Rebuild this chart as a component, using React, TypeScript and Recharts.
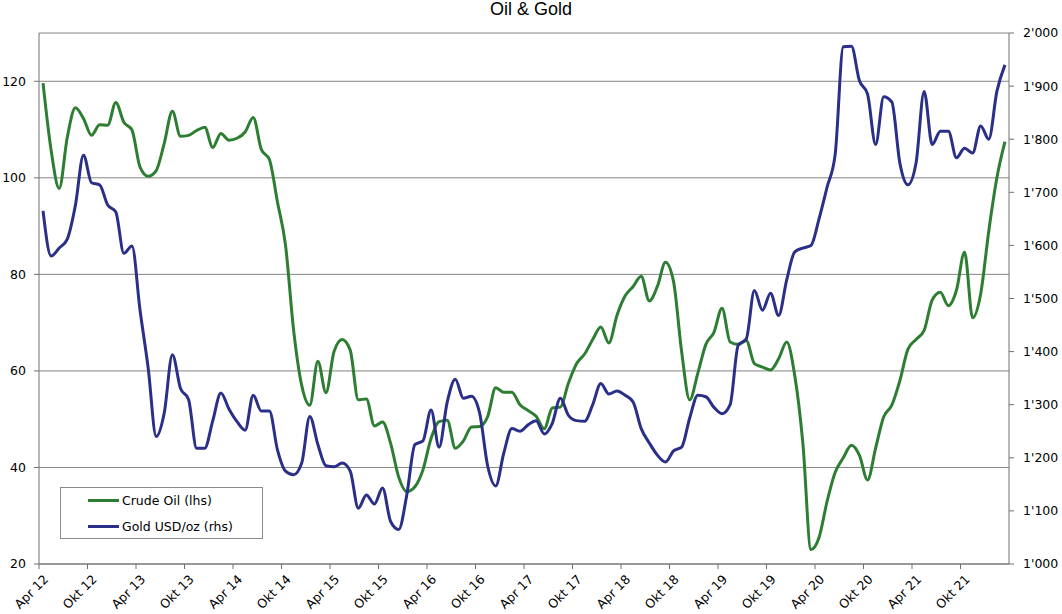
import React from 'react';
import {
  LineChart,
  Line,
  XAxis,
  YAxis,
  CartesianGrid,
  ReferenceLine,
} from 'recharts';

// Monthly readings, mid-month, Apr 2012 .. Mar 2022
const crudeOil = [
  119.6, 105.7, 97.8, 108.4, 114.5, 112.3, 108.8, 111.0, 110.9, 115.6,
  111.5, 109.9, 102.2, 100.3, 101.5, 107.2, 113.8, 108.6, 108.8, 109.8,
  110.5, 106.3, 109.2, 107.8, 108.2, 109.5, 112.5, 105.9, 103.8, 95.0,
  86.0, 68.4, 57.0, 52.9, 62.0, 55.5, 64.0, 66.5, 64.3, 54.0,
  54.2, 48.6, 49.4, 45.0, 38.0, 35.0, 36.0, 39.5, 46.0, 49.5,
  49.8, 44.0, 45.5, 48.4, 48.5, 50.5, 56.5, 55.6, 55.6, 53.0,
  51.8, 50.6, 48.0, 52.3, 52.5, 57.5, 61.5, 63.5, 66.5, 69.1,
  65.8, 71.5, 75.5, 77.5, 79.6, 74.5, 77.5, 82.5, 78.5, 64.0,
  54.0, 59.5, 65.5, 68.0, 73.0, 66.0, 65.5, 66.3, 61.5, 60.8,
  60.2, 62.5, 66.0, 59.0, 45.0, 23.0, 25.5, 33.0, 39.0, 42.0,
  44.6, 42.5, 37.4, 44.0, 50.5, 52.9, 58.0, 64.5, 66.5, 68.4,
  74.7, 76.3, 73.5, 76.7, 84.6, 71.0, 76.0, 89.0, 100.0, 107.5,
];

const goldUsd = [
  1665, 1580, 1595, 1612, 1675, 1770, 1718, 1714, 1676, 1663,
  1585, 1599, 1478, 1370, 1240, 1285, 1394, 1331, 1310, 1218,
  1218, 1270, 1322, 1292, 1268, 1252, 1318, 1288, 1288, 1215,
  1175, 1168, 1190, 1278, 1225, 1185, 1183, 1190, 1175, 1105,
  1130, 1113, 1143, 1080, 1065, 1130, 1225, 1232, 1290, 1220,
  1305, 1348, 1312, 1316, 1285, 1185, 1147, 1209, 1255, 1250,
  1262, 1270, 1245, 1265, 1312, 1280, 1270, 1269, 1300, 1340,
  1320, 1326, 1318, 1305, 1255, 1228, 1205, 1192, 1213, 1220,
  1275, 1318, 1315, 1295, 1283, 1300, 1412, 1424, 1515, 1478,
  1510, 1468, 1535, 1588, 1595, 1600, 1650, 1710, 1772, 1974,
  1975, 1910, 1885, 1790, 1880, 1870, 1755, 1714, 1755, 1890,
  1790, 1815, 1815, 1765, 1783, 1774, 1825, 1800, 1890, 1940,
];

const tickLabels = [
  'Apr 12', 'Okt 12', 'Apr 13', 'Okt 13', 'Apr 14', 'Okt 14', 'Apr 15',
  'Okt 15', 'Apr 16', 'Okt 16', 'Apr 17', 'Okt 17', 'Apr 18', 'Okt 18',
  'Apr 19', 'Okt 19', 'Apr 20', 'Okt 20', 'Apr 21', 'Okt 21',
];

const leftTicks = [20, 40, 60, 80, 100, 120];
const rightTicks = [1000, 1100, 1200, 1300, 1400, 1500, 1600, 1700, 1800, 1900, 2000];

const OIL_NAME = 'Crude Oil (lhs)';
const GOLD_NAME = 'Gold USD/oz (rhs)';
const OIL_COLOR = '#2d7d32';
const GOLD_COLOR = '#2a2f88';
const AXIS_COLOR = '#707070';
const FONT = '"DejaVu Sans", Verdana, sans-serif';

// one row per month, placed at the middle of the month
const data = crudeOil.map((oil, i) => ({ t: i + 0.5, oil, gold: goldUsd[i] }));
const xTicks = tickLabels.map((_, i) => i * 6);

function formatThousands(v: number) {
  const s = String(v);
  return s.length > 3 ? `${s.slice(0, s.length - 3)}'${s.slice(-3)}` : s;
}

function MonthTick(props: any) {
  const { x, y, payload } = props;
  const label = tickLabels[Math.round(payload.value / 6)];
  const ax = x + 7;
  const ay = y + 8;
  return (
    <text
      x={ax}
      y={ay}
      dy="0.35em"
      textAnchor="end"
      transform={`rotate(-45, ${ax}, ${ay})`}
      fill="#000"
      fontSize={12.5}
      fontFamily={FONT}
    >
      {label}
    </text>
  );
}

function LegendBox() {
  const items = [
    { name: OIL_NAME, color: OIL_COLOR },
    { name: GOLD_NAME, color: GOLD_COLOR },
  ];
  return (
    <div
      style={{
        position: 'absolute',
        left: 60,
        top: 487,
        width: 201,
        height: 50,
        border: '1px solid #8a8a8a',
        background: '#fff',
        fontFamily: FONT,
        fontSize: 12.5,
      }}
    >
      {items.map((it, i) => (
        <div
          key={it.name}
          style={{
            position: 'absolute',
            left: 27,
            top: 3 + i * 26,
            height: 18,
            display: 'flex',
            alignItems: 'center',
            whiteSpace: 'nowrap',
          }}
        >
          <span style={{ display: 'inline-block', width: 31, height: 3, background: it.color, marginRight: 3 }} />
          <span>{it.name}</span>
        </div>
      ))}
    </div>
  );
}

export default function App() {
  return (
    <div style={{ position: 'absolute', left: 0, top: 0, width: 1062, height: 614, background: '#fff' }}>
      <div
        style={{
          position: 'absolute',
          left: 0,
          top: -1,
          width: 1062,
          textAlign: 'center',
          fontFamily: '"Liberation Sans", Arial, sans-serif',
          fontSize: 18,
          color: '#000',
        }}
      >
        Oil &amp; Gold
      </div>
      <LineChart
        width={1062}
        height={614}
        data={data}
        margin={{ top: 33, right: 0, bottom: 0, left: 0 }}
      >
        <CartesianGrid yAxisId="left" vertical={false} stroke="#858585" horizontalValues={leftTicks} />
        <XAxis
          dataKey="t"
          type="number"
          domain={[0, 120]}
          ticks={xTicks}
          interval={0}
          height={50}
          tickSize={5}
          tickMargin={0}
          stroke={AXIS_COLOR}
          tick={<MonthTick />}
        />
        <YAxis
          yAxisId="left"
          orientation="left"
          domain={[20, 130]}
          ticks={leftTicks}
          interval={0}
          width={39}
          tickSize={5}
          tickMargin={8}
          stroke={AXIS_COLOR}
          tick={{ fill: '#000', fontSize: 12.5, fontFamily: FONT }}
        />
        <YAxis
          yAxisId="right"
          orientation="right"
          domain={[1000, 2000]}
          ticks={rightTicks}
          interval={0}
          width={53}
          tickSize={5}
          tickMargin={9}
          stroke={AXIS_COLOR}
          tickFormatter={formatThousands}
          tick={{ fill: '#000', fontSize: 12.5, fontFamily: FONT, textAnchor: 'start' }}
        />
        <ReferenceLine yAxisId="left" y={130} stroke="#858585" />
        <Line
          yAxisId="left"
          type="monotone"
          dataKey="oil"
          name={OIL_NAME}
          stroke={OIL_COLOR}
          strokeWidth={3}
          dot={false}
          isAnimationActive={false}
        />
        <Line
          yAxisId="right"
          type="monotone"
          dataKey="gold"
          name={GOLD_NAME}
          stroke={GOLD_COLOR}
          strokeWidth={3}
          dot={false}
          isAnimationActive={false}
        />
      </LineChart>
      <LegendBox />
    </div>
  );
}
